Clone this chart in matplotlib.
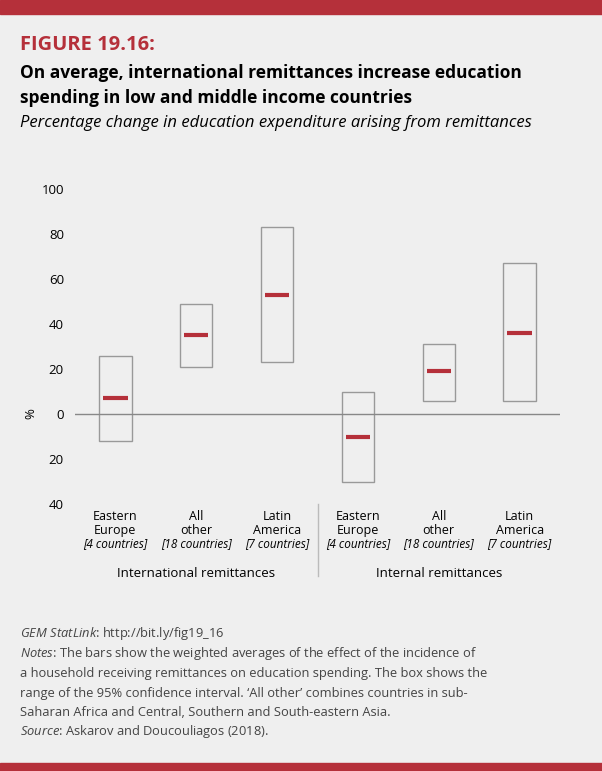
import matplotlib.pyplot as plt
from matplotlib.patches import Rectangle
import matplotlib.transforms as mtransforms

cats = ["Eastern\nEurope", "All\nother", "Latin\nAmerica"] * 2
counts = ["[4 countries]", "[18 countries]", "[7 countries]"] * 2
groups = ["International remittances", "Internal remittances"]
low = [-12, 21, 23, -30, 6, 6]
high = [26, 49, 83, 10, 31, 67]
mean = [7, 35, 53, -10, 19, 36]
xpos = [0, 1, 2, 3, 4, 5]

red = "#b5303a"
bg = "#efefef"
plt.rcParams['font.family'] = ['Open Sans', 'DejaVu Sans']
plt.rcParams['mathtext.fontset'] = 'custom'
plt.rcParams['mathtext.it'] = 'Open Sans:italic'
plt.rcParams['mathtext.rm'] = 'Open Sans'

fig = plt.figure(figsize=(6.02, 7.71), dpi=100, facecolor=bg)
fig.patches.append(Rectangle((0, 1 - 14 / 771), 1, 14 / 771, transform=fig.transFigure, color=red))
fig.patches.append(Rectangle((0, 0), 1, 8 / 771, transform=fig.transFigure, color=red))

fig.text(20 / 602, 1 - 45 / 771, "FIGURE 19.16:", color=red, fontsize=14.5, fontweight='bold', va='center')
fig.text(20 / 602, 1 - 73 / 771, "On average, international remittances increase education", fontsize=12.5, fontweight='bold', va='center')
fig.text(20 / 602, 1 - 98 / 771, "spending in low and middle income countries", fontsize=12.5, fontweight='bold', va='center')
fig.text(20 / 602, 1 - 123 / 771, "Percentage change in education expenditure arising from remittances", fontsize=12, style='italic', va='center')

ax = fig.add_axes([75 / 602, 1 - 504 / 771, 485 / 602, 315 / 771])
ax.set_facecolor(bg)
ax.set_xlim(-0.5, 5.5)
ax.set_ylim(-40, 100)
for s in ax.spines.values():
    s.set_visible(False)
ax.axhline(0, color="#888888", lw=1)
ax.set_xticks([])
ax.set_yticks(range(-40, 101, 20))
ax.set_yticklabels([str(abs(v)) for v in range(-40, 101, 20)], fontsize=9.5)
ax.tick_params(axis='y', length=0, pad=8)
ax.text(-0.09, 0, "%", transform=mtransforms.blended_transform_factory(ax.transAxes, ax.transData),
        rotation=90, fontsize=9.5, ha='center', va='center')

w = 0.4
for x, lo, hi, m in zip(xpos, low, high, mean):
    ax.add_patch(Rectangle((x - w / 2, lo), w, hi - lo, fill=False, ec="#999999", lw=1))
    ax.plot([x - 0.15, x + 0.15], [m, m], color=red, lw=3, solid_capstyle='butt')

tr = mtransforms.blended_transform_factory(ax.transData, ax.transAxes)
for x, c, n in zip(xpos, cats, counts):
    ax.text(x, -0.02, c, transform=tr, ha='center', va='top', fontsize=9, linespacing=1.05)
    ax.text(x, -0.105, n, transform=tr, ha='center', va='top', fontsize=8.5, style='italic')
for i, g in enumerate(groups):
    ax.text(1 + 3 * i, -0.2, g, transform=tr, ha='center', va='top', fontsize=9.5)
ax.plot([2.5, 2.5], [0, -0.23], transform=tr, color="#bbbbbb", lw=1, clip_on=False)

foot = [
    (r"$\it{GEM\ StatLink}$: http://bit.ly/fig19_16", 634),
    (r"$\it{Notes}$: The bars show the weighted averages of the effect of the incidence of", 654),
    ("a household receiving remittances on education spending. The box shows the", 674),
    ("range of the 95% confidence interval. ‘All other’ combines countries in sub-", 693),
    ("Saharan Africa and Central, Southern and South-eastern Asia.", 712),
    (r"$\it{Source}$: Askarov and Doucouliagos (2018).", 731),
]
for t, y in foot:
    fig.text(20 / 602, 1 - y / 771, t, fontsize=9.3, color="#444444", va='center')

fig.savefig("out.png", dpi=100, facecolor=bg)
